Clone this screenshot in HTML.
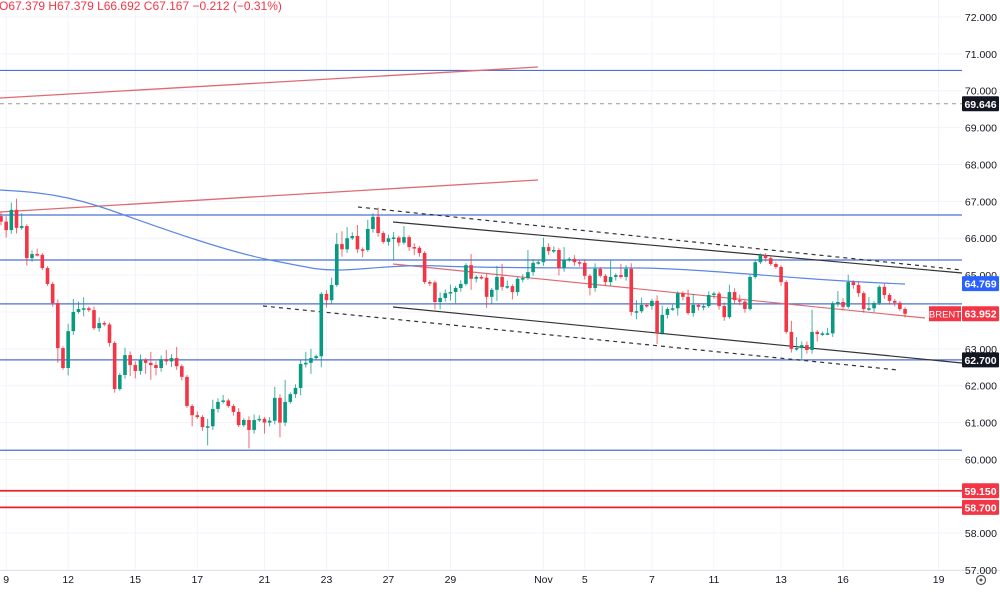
<!DOCTYPE html>
<html><head><meta charset="utf-8"><style>
body{margin:0;background:#fff;font-family:"Liberation Sans",sans-serif;}
svg{display:block}
</style></head><body>
<svg id="chart" width="1000" height="592" xmlns="http://www.w3.org/2000/svg" font-family="Liberation Sans, sans-serif">
<g id="grid"></g>
<g id="draw"></g>
<g id="candles"></g>
<g id="axes"></g>
<text x="-1" y="10" font-size="12" fill="#f23645">O67.379 H67.379 L66.692 C67.167 −0.212 (−0.31%)</text>
</svg>
<script>
const closes=[66.45,66.22,66.77,66.28,66.33,65.46,65.57,65.55,65.19,64.76,64.24,63.02,62.48,63.48,64.0,64.08,64.1,64.05,63.56,63.70,63.66,63.16,61.91,62.29,62.83,62.56,62.4,62.7,62.62,62.56,62.48,62.72,62.66,62.75,62.53,62.24,61.45,61.2,61.15,60.88,60.9,61.37,61.56,61.6,61.45,61.29,60.93,61.07,60.8,61.07,61.1,61.0,61.05,61.67,61.0,61.56,61.77,61.94,62.59,62.62,62.75,62.8,64.49,64.32,64.73,65.84,
65.7,66.0,66.06,65.7,65.68,66.25,66.58,66.14,65.9,66.0,66.02,65.88,66.03,65.76,65.74,65.6,64.81,64.8,64.27,64.38,64.51,64.54,64.65,64.76,65.27,64.9,64.95,64.93,64.41,64.6,64.95,64.68,64.7,64.54,64.9,64.92,65.08,65.33,65.35,65.76,65.65,65.68,65.19,65.41,65.44,65.35,65.33,64.98,64.65,65.17,64.98,64.81,64.95,65.0,64.95,65.17,64.0,64.02,64.19,64.16,
64.3,63.43,63.92,64.08,64.1,64.51,64.41,63.97,64.19,64.14,64.16,64.46,64.5,64.16,63.86,64.54,64.32,64.28,64.08,64.95,65.35,65.54,65.46,65.3,65.22,64.81,63.46,63.0,63.02,63.1,62.97,63.46,63.4,63.42,63.42,64.24,64.27,64.14,64.81,64.73,64.51,64.08,64.1,64.24,64.68,64.46,64.3,64.25,64.08,63.95];
const firstOpen=66.6;
const upperWick=[.1,.15,.2,.3,.35,.05,.1,.15,.05,.05,.05,.1,.05,.2,.35,.2,.3,.05,.1,.15,.05,.05,.05,.05,.2,.1,.1,.15,.05,.3,.1,.1,.25,.1,.3,.05,.05,.05,.1,.05,.2,.25,.1,.15,.05,.05,.1,.05,.1,.15,.1,.05,.1,.3,.1,.6,.05,.1,.1,.3,.25,.05,.05,.1,.2,.3,
.35,.3,.1,.3,.05,.25,.1,.25,.05,.1,.15,.05,.3,.05,.1,.05,.05,.05,.05,.15,.1,.2,.05,.1,.05,.3,.05,.05,.1,.05,.3,.35,.15,.05,.05,.1,.6,.1,.05,.25,.1,.1,.05,.35,.05,.1,.05,.1,.05,.15,.05,.05,.45,.05,.3,.1,
.15,.3,.2,.05,.05,.15,.25,.05,.1,.05,.05,.2,.3,.05,.05,.1,.05,.05,.1,.2,.1,.15,.05,.05,.05,.05,.05,.05,.05,.05,.05,.3,.3,.1,.1,.6,.05,.05,.15,.05,.3,.1,.2,.05,.1,.05,.3,.05,.05,.1];
const lowerWick=[.1,.2,.1,.15,.05,.2,.1,.05,.05,.05,.1,.4,.05,.2,.1,.05,.2,.05,.05,.1,.05,.1,.1,.05,.1,.3,.2,.1,.3,.4,.2,.1,.1,.15,.1,.1,.05,.3,.05,.1,.5,.1,.1,.05,.05,.1,.05,.05,.5,.1,.05,.3,.1,.1,.4,.1,.05,.1,.2,.1,.3,.05,.3,.2,.1,.05,
.2,.1,.05,.1,.2,.05,.1,.1,.05,.1,.6,.1,.05,.1,.2,.1,.05,.1,.2,.2,.1,.2,.3,.1,.05,.3,.1,.05,.3,.2,.3,.1,.05,.2,.1,.1,.05,.1,.05,.1,.1,.05,.2,.1,.05,.1,.1,.1,.2,.1,.05,.1,.1,.1,.05,.1,.1,.2,.05,.05,
.1,.3,.05,.1,.05,.2,.1,.05,.1,.1,.1,.05,.1,.1,.1,.05,.1,.1,.1,.05,.05,.05,.1,.05,.05,.1,.05,.1,.05,.3,.1,.1,.2,.05,.05,.1,.1,.1,.05,.1,.1,.1,.05,.1,.05,.1,.1,.1,.05,.1];
const priceTicks=[72,71,70,69,68,67,66,65,63,62,61,60,58,57];
const dateLabels=["9","12","15","17","21","23","27","29","Nov","5","7","11","13","16","19"];
const dateIdx=[1,13,26,38,51,63,75,87,105,113,126,138,151,163,181.5];
const tags=[[69.646,"#131722"],[64.769,"#2962ff"],[63.952,"#f23645"],[62.7,"#131722"],[59.15,"#f23645"],[58.7,"#f23645"]];
const hLinesBlue=[70.55,66.63,65.41,64.22,62.7,60.25];
const hLinesRed=[59.15,58.7];
const NS="http://www.w3.org/2000/svg";
const PR=962;
function y(v){return 17+(72-v)*36.87;}
function x(i){return 1+i*5.166;}
function el(t,a,p){const e=document.createElementNS(NS,t);for(const k in a)e.setAttribute(k,a[k]);p.appendChild(e);return e;}
const G=document.getElementById('grid'),D=document.getElementById('draw'),C=document.getElementById('candles'),A=document.getElementById('axes');
for(let v=57;v<=72;v++){const l=el('line',{x1:0,x2:PR,y1:y(v),y2:y(v),stroke:'#f0f3fa'},G);}
dateIdx.forEach(i=>{const l=el('line',{x1:x(i),x2:x(i),y1:0,y2:570,stroke:'#f0f3fa'},G);});
hLinesBlue.forEach(v=>{const l=el('line',{x1:0,x2:PR,y1:y(v),y2:y(v),stroke:'#4a6fd6','stroke-width':1.2},D);});
hLinesRed.forEach(v=>{const l=el('line',{x1:0,x2:PR,y1:y(v),y2:y(v),stroke:'#e8202e','stroke-width':1.8},D);});
let l=el('line',{x1:0,x2:PR,y1:y(69.646),y2:y(69.646),stroke:'#999','stroke-dasharray':'4 4'},D);


const segs=[[0,98,538,67,'#e06a72',1.3,''],[0,212,538,180,'#e06a72',1.3,''],[393,264,925,318,'#e06a72',1.2,''],
[393,222,962,273,'#333',1.2,''],[393,307,962,363,'#333',1.2,''],[358,207,962,270,'#333',1.2,'4 4'],[263,306,898,370,'#333',1.2,'4 4']];
segs.forEach(s=>{const e=el('line',{x1:s[0],y1:s[1],x2:s[2],y2:s[3],stroke:s[4],'stroke-width':s[5]},D);if(s[6])e.setAttribute('stroke-dasharray',s[6]);});
const ma=el('path',{d:'M0,190 C40,192 70,196 110,210 S220,250 270,260 S320,270 340,270 S400,264 440,266 S600,268 640,268 S760,275 800,278 S880,283 905,284',fill:'none',stroke:'#5b86e5','stroke-width':1.2},D);


let prev=firstOpen;
closes.forEach((c,i)=>{const o=prev;prev=c;const up=c>=o;const col=up?'#089981':'#f23645';
 const hi=Math.max(o,c)+(upperWick[i]||0.05),lo=Math.min(o,c)-(lowerWick[i]||0.05);
 const cx=x(i);const wl=el('line',{x1:cx,x2:cx,y1:y(hi),y2:y(lo),stroke:col,'stroke-width':1,opacity:.75},C);
 
 
 const r=el('rect',{x:cx-1.8,width:3.6,y:y(Math.max(o,c)),height:Math.max(1.5,Math.abs(y(o)-y(c))),fill:col},C);
 
 });
el('line',{x1:0,x2:1000,y1:570.5,y2:570.5,stroke:'#e0e3eb'},A);
priceTicks.forEach(v=>{const t=el('text',{x:997,y:y(v)+4,'font-size':10.5,fill:'#131722','text-anchor':'end'},A);t.textContent=v.toFixed(3);});
dateLabels.forEach((s,i)=>{const t=el('text',{x:x(dateIdx[i]),y:583,'font-size':10.5,fill:'#131722','text-anchor':'middle'},A);t.textContent=s;});
tags.forEach(tg=>{const g=el('g',{},A);
 el('rect',{x:962,y:y(tg[0])-7.5,width:37,height:15,fill:tg[1],rx:1},g);
 const t=el('text',{x:980.5,y:y(tg[0])+4,'font-size':10.5,'font-weight':'bold',fill:'#fff','text-anchor':'middle'},g);t.textContent=tg[0].toFixed(3);});
const bg=el('g',{},A);


el('rect',{x:929,y:y(63.952)-7.5,width:32,height:15,fill:'#f23645'},bg);
const bt=el('text',{x:945,y:y(63.952)+4,'font-size':9.5,fill:'#fff','text-anchor':'middle'},bg);bt.textContent='BRENT';
const ic=el('circle',{cx:981,cy:580,r:4.5,fill:'none',stroke:'#555','stroke-width':1.2},A);


el('circle',{cx:981,cy:580,r:1.5,fill:'#555'},A);
</script>
</body></html>
